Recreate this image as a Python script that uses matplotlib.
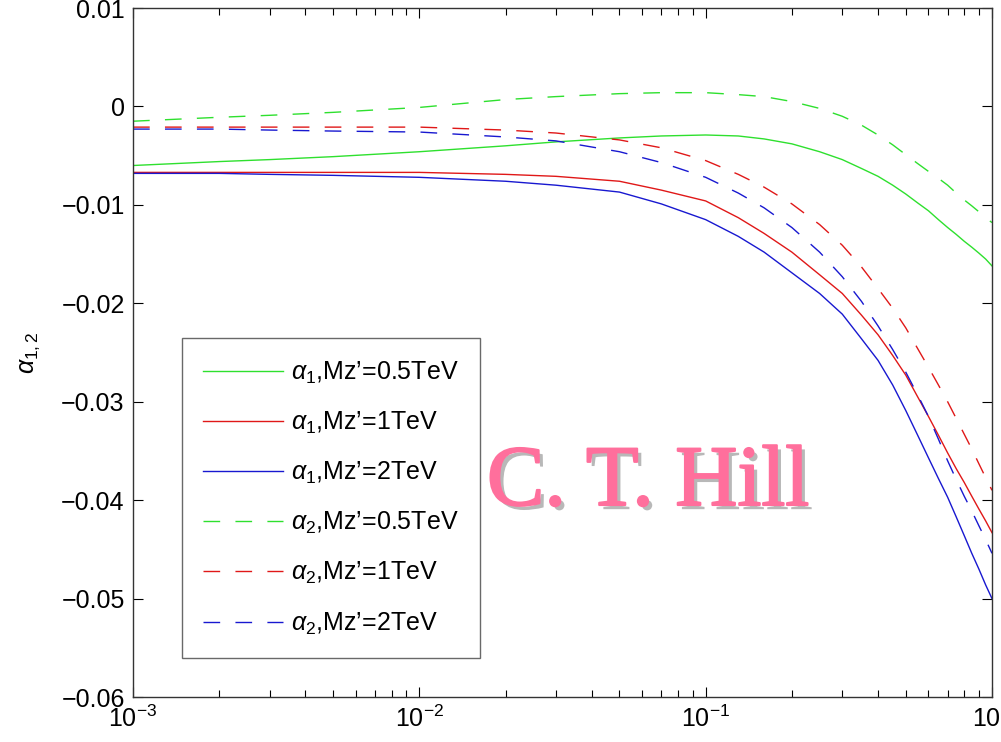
import numpy as np
import matplotlib
matplotlib.use('Agg')
import matplotlib.pyplot as plt
import matplotlib.patheffects as pe

plt.rcParams['font.family'] = ['Liberation Sans', 'DejaVu Sans']
plt.rcParams['mathtext.fontset'] = 'custom'
plt.rcParams['mathtext.rm'] = 'Liberation Sans'
plt.rcParams['mathtext.it'] = 'Liberation Sans:italic'
plt.rcParams['lines.scale_dashes'] = False

# values
x = [0.001, 0.002, 0.003, 0.005, 0.01, 0.02, 0.03, 0.05, 0.07, 0.1, 0.13, 0.16, 0.2,
     0.25, 0.3, 0.35, 0.4, 0.45, 0.5, 0.55, 0.6, 0.65, 0.7, 0.75, 0.8, 0.85, 0.9, 0.95, 1.0]

a1_05 = [-0.0060, -0.0056, -0.0054, -0.0051, -0.0046, -0.0040, -0.0036, -0.0032, -0.0030,
         -0.0029, -0.0030, -0.0033, -0.0038, -0.0046, -0.0054, -0.0063, -0.0071, -0.0080,
         -0.0089, -0.0098, -0.0106, -0.0115, -0.0123, -0.0130, -0.0137, -0.0143, -0.0149,
         -0.0155, -0.0162]
a1_1 = [-0.0067, -0.0067, -0.0067, -0.0067, -0.0067, -0.0069, -0.0071, -0.0076, -0.0085,
        -0.0096, -0.0113, -0.0129, -0.0148, -0.0171, -0.0190, -0.0212, -0.0232, -0.0253,
        -0.0273, -0.0295, -0.0315, -0.0334, -0.0352, -0.0368, -0.0382, -0.0396, -0.0409,
        -0.0421, -0.0433]
a1_2 = [-0.0068, -0.0068, -0.0069, -0.0070, -0.0072, -0.0076, -0.0080, -0.0087, -0.0099,
        -0.0115, -0.0132, -0.0148, -0.0169, -0.0190, -0.0211, -0.0236, -0.0258, -0.0283,
        -0.0309, -0.0334, -0.0357, -0.0378, -0.0397, -0.0417, -0.0436, -0.0454, -0.0470,
        -0.0486, -0.0500]
a2_05 = [-0.0015, -0.0011, -0.0009, -0.0006, -0.0001, 0.0007, 0.0010, 0.0013, 0.0014,
         0.0014, 0.0012, 0.0010, 0.0005, -0.0002, -0.0010, -0.0019, -0.0029, -0.0039,
         -0.0049, -0.0058, -0.0066, -0.0073, -0.0080, -0.0088, -0.0095, -0.0101, -0.0107,
         -0.0113, -0.0118]
a2_1 = [-0.0021, -0.0021, -0.0021, -0.0021, -0.0021, -0.0024, -0.0027, -0.0034, -0.0042,
        -0.0055, -0.0069, -0.0082, -0.0099, -0.0120, -0.0141, -0.0163, -0.0185, -0.0205,
        -0.0225, -0.0246, -0.0265, -0.0283, -0.0300, -0.0317, -0.0333, -0.0348, -0.0363,
        -0.0377, -0.0390]
a2_2 = [-0.0023, -0.0023, -0.0024, -0.0025, -0.0026, -0.0031, -0.0035, -0.0046, -0.0057,
        -0.0072, -0.0088, -0.0103, -0.0123, -0.0148, -0.0173, -0.0198, -0.0223, -0.0247,
        -0.0270, -0.0293, -0.0315, -0.0338, -0.0360, -0.0379, -0.0396, -0.0411, -0.0426,
        -0.0440, -0.0454]

labels = [r'$\alpha_1$,Mz’=0.5TeV', r'$\alpha_1$,Mz’=1TeV', r'$\alpha_1$,Mz’=2TeV',
          r'$\alpha_2$,Mz’=0.5TeV', r'$\alpha_2$,Mz’=1TeV', r'$\alpha_2$,Mz’=2TeV']
series = [a1_05, a1_1, a1_2, a2_05, a2_1, a2_2]
colors = ['#2ee02e', '#e01818', '#1818d0', '#2ee02e', '#e01818', '#1818d0']

fig = plt.figure(figsize=(10.01, 7.42), dpi=100)
ax = fig.add_axes([0.1329, 0.0606, 0.8581, 0.9286])

for i in range(6):
    ls = '-' if i < 3 else (0, (12, 11))
    ax.plot(x, series[i], color=colors[i], lw=1.0, linestyle=ls, label=labels[i])

ax.set_xscale('log')
ax.set_xlim(1e-3, 1)
ax.set_ylim(-0.06, 0.01)
ax.set_yticks(np.arange(-0.06, 0.0101, 0.01))
ax.set_yticklabels(['−0.06', '−0.05', '−0.04', '−0.03', '−0.02', '−0.01', '0', '0.01'])
ax.tick_params(which='both', direction='in', top=True, right=True, labelsize=18, pad=6)
ax.tick_params(which='major', length=7, width=0.8)
ax.tick_params(which='minor', length=5, width=0.8)
for s in ax.spines.values():
    s.set_linewidth(1.0)
    s.set_color('#333333')

ax.set_ylabel(r'$\alpha_{1,2}$', fontsize=18, labelpad=14)

leg = ax.legend(loc='upper left', bbox_to_anchor=(0.057, 0.521), fontsize=18,
                frameon=True, fancybox=False, edgecolor='#444444', handlelength=3.2,
                handletextpad=0.3, labelspacing=0.96, borderpad=0.85, borderaxespad=0)
leg.get_frame().set_linewidth(1.0)

fig.text(0.4865, 0.3194, 'C. T. Hill', fontsize=62, family='Liberation Serif',
         color='#ff6f9c', ha='left', va='baseline',
         path_effects=[pe.withSimplePatchShadow(offset=(3, -3), shadow_rgbFace='#b8b8b8', alpha=1.0),
                       pe.Stroke(linewidth=1.5, foreground='#ff6f9c'), pe.Normal()])

fig.savefig('out.png', dpi=100)
